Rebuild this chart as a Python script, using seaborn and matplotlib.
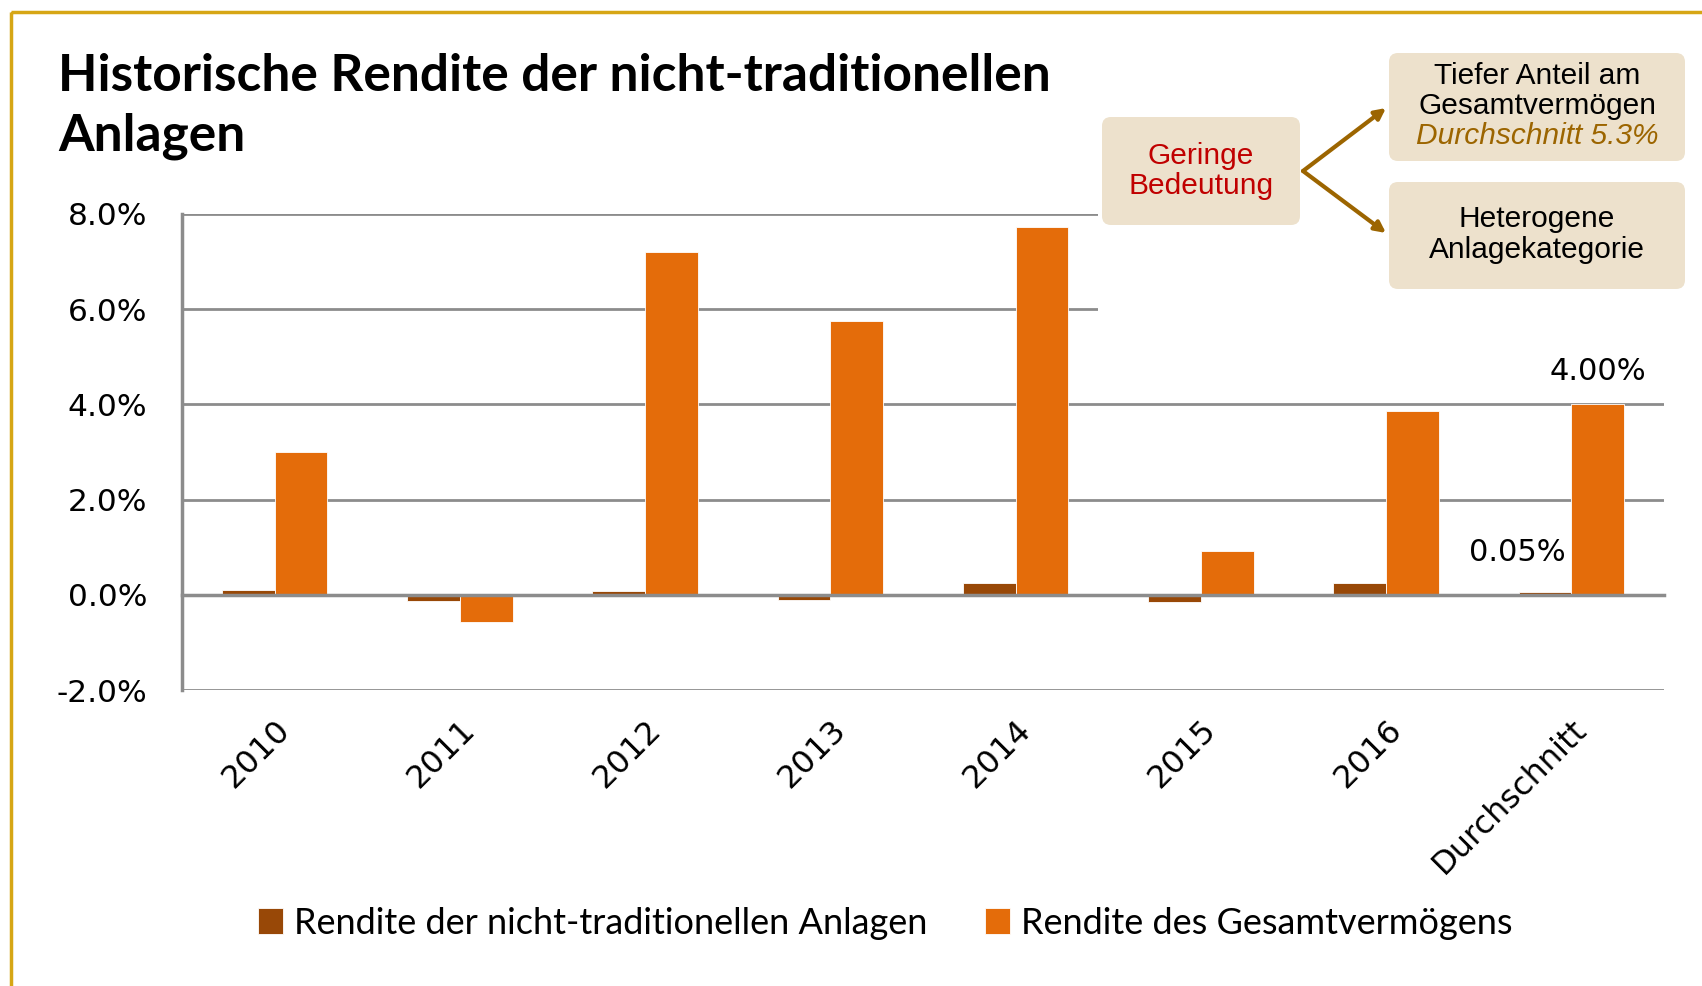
import numpy as np
import pandas as pd
import matplotlib
matplotlib.use('Agg')
import matplotlib.pyplot as plt
import seaborn as sns
from matplotlib.patches import Rectangle, FancyBboxPatch, FancyArrowPatch

# data (percent)
categories = ['2010', '2011', '2012', '2013', '2014', '2015', '2016', 'Durchschnitt']
rendite_nicht_trad = [0.11, -0.13, 0.09, -0.10, 0.24, -0.15, 0.24, 0.05]
rendite_gesamt = [3.01, -0.57, 7.20, 5.76, 7.72, 0.93, 3.87, 4.00]
series_names = ['Rendite der nicht-traditionellen Anlagen', 'Rendite des Gesamtvermögens']
y_ticks = [-2, 0, 2, 4, 6, 8]

dark = '#984807'
orange = '#E46C0A'
gray = '#8C8C8C'
beige = '#EDE1CC'
gold = '#9C6500'

sns.set_style('white')
plt.rcParams['font.family'] = ['DejaVu Sans']
plt.rcParams['text.color'] = 'black'
plt.rcParams['xtick.labelcolor'] = 'black'
plt.rcParams['ytick.labelcolor'] = 'black'

W, H = 1702, 986
fig = plt.figure(figsize=(W / 100, H / 100), dpi=100)
ax = fig.add_axes([182 / W, 1 - 690 / H, (1664 - 182) / W, (690 - 214) / H])

df = pd.DataFrame({
    'Jahr': categories * 2,
    'Rendite': rendite_nicht_trad + rendite_gesamt,
    'Serie': [series_names[0]] * len(categories) + [series_names[1]] * len(categories),
})
sns.barplot(data=df, x='Jahr', y='Rendite', hue='Serie', palette=[dark, orange],
            width=0.57, gap=0, saturation=1, edgecolor='white', linewidth=0.6, ax=ax)

ax.set_xlim(-0.5, len(categories) - 0.5)
ax.set_ylim(-2, 8)
ax.set_yticks(y_ticks)
ax.set_yticklabels([f'{v:.1f}%' for v in y_ticks])
ax.set_xlabel('')
ax.set_ylabel('')
ax.yaxis.grid(True, color=gray, lw=2)
ax.set_axisbelow(True)

for s in ['top', 'right']:
    ax.spines[s].set_visible(False)
ax.spines['left'].set_color(gray)
ax.spines['left'].set_linewidth(2.5)
ax.spines['bottom'].set_color(gray)
ax.spines['bottom'].set_linewidth(2.5)
ax.spines['bottom'].set_position(('data', 0))

ax.set_xticks(np.arange(-0.5, len(categories), 1), minor=True)
ax.tick_params(axis='x', which='minor', length=9, width=2.2, color=gray, direction='out')
ax.tick_params(axis='x', which='major', length=0, pad=86, labelsize=23)
ax.tick_params(axis='y', length=9, width=2, color=gray, direction='out', labelsize=22.5, pad=16)
for lab in ax.get_xticklabels():
    lab.set_rotation(45)
    lab.set_ha('right')
    lab.set_rotation_mode('anchor')

# value labels on the average bars
p_dark = ax.containers[0][-1]
p_or = ax.containers[1][-1]
ax.annotate(f'{rendite_nicht_trad[-1]:.2f}%', (p_dark.get_x() + p_dark.get_width() / 2, p_dark.get_height()),
            xytext=(-20, 18), textcoords='offset points', ha='center', va='bottom', fontsize=22)
ax.annotate(f'{rendite_gesamt[-1]:.2f}%', (p_or.get_x() + p_or.get_width() / 2, p_or.get_height()),
            xytext=(0, 13), textcoords='offset points', ha='center', va='bottom', fontsize=22)

handles, labels = ax.get_legend_handles_labels()
ax.legend(handles, labels, loc='center', bbox_to_anchor=(0.52, 1 - 923 / H), bbox_transform=fig.transFigure,
          ncol=2, frameon=False, handlelength=0.7, handleheight=0.7, handletextpad=0.3,
          columnspacing=1.6, prop={'family': 'Lato', 'size': 26})

# overlay in pixel coordinates for title, frame and callouts
ov = fig.add_axes([0, 0, 1, 1], zorder=5)
ov.set_xlim(0, W)
ov.set_ylim(H, 0)
ov.axis('off')

ov.add_patch(Rectangle((11, 12), W, H, fill=False, edgecolor='#D6A615', lw=2.5))
ov.text(58, 53, 'Historische Rendite der nicht-traditionellen\nAnlagen', ha='left', va='top',
        family='Lato', weight='bold', fontsize=37, linespacing=1.32, color='black')

ov.add_patch(Rectangle((1098, 100), 595, 222, color='white', lw=0))
for (x0, y0, x1, y1) in [(1102, 117, 1300, 225), (1389, 53, 1685, 161), (1389, 182, 1685, 289)]:
    ov.add_patch(FancyBboxPatch((x0, y0), x1 - x0, y1 - y0, boxstyle='round,pad=0,rounding_size=9',
                                facecolor=beige, edgecolor='none'))

af = dict(ha='center', va='center', family='Liberation Sans', fontsize=21.5)
ov.text(1201, 156, 'Geringe', color='#C00000', **af)
ov.text(1201, 186, 'Bedeutung', color='#C00000', **af)
ov.text(1537, 76, 'Tiefer Anteil am', color='black', **af)
ov.text(1537, 106, 'Gesamtvermögen', color='black', **af)
ov.text(1537, 136, 'Durchschnitt 5.3%', color=gold, style='italic', **af)
ov.text(1537, 219, 'Heterogene', color='black', **af)
ov.text(1537, 250, 'Anlagekategorie', color='black', **af)

for y_end in [108, 233]:
    ov.add_patch(FancyArrowPatch((1303, 171), (1386, y_end), arrowstyle='-|>', mutation_scale=16,
                                 color=gold, lw=3, shrinkA=0, shrinkB=0))

fig.savefig('out.png', dpi=100)
